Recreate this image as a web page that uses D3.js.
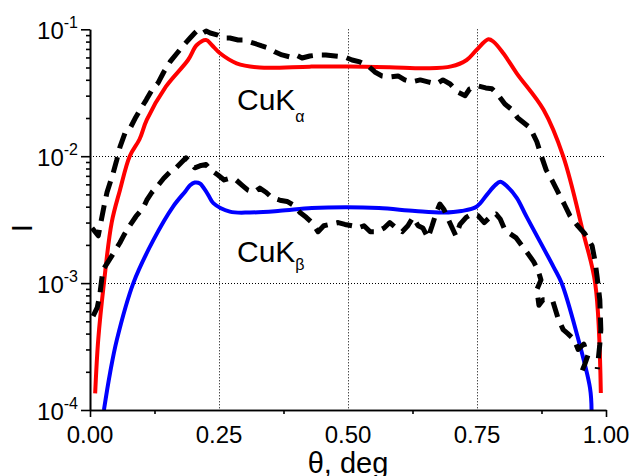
<!DOCTYPE html>
<html><head><meta charset="utf-8">
<script src="https://cdn.jsdelivr.net/npm/d3@7"></script>
<style>
body{margin:0;background:#fff}
text{font-family:Arial,"Liberation Sans",sans-serif;fill:#000}
</style>
</head><body>
<svg id="c" width="633" height="476"></svg>
<script>
// ---- data ----
const xMajorTicks = [0, 0.25, 0.5, 0.75, 1.0];
const xTickLabels = ["0.00", "0.25", "0.50", "0.75", "1.00"];
const xMinorTicks = [0.125, 0.375, 0.625, 0.875];
const xGrid = [0.25, 0.5, 0.75];
const yExponents = [-4, -3, -2, -1];
const yGrid = [1e-3, 1e-2];

// calculated CuK-alpha (red)
const thetaRed = [0.010,0.016,0.027,0.042,0.058,0.077,0.096,0.110,0.147,0.190,0.207,0.225,0.236,0.252,0.284,0.329,0.426,0.500,0.580,0.652,0.700,0.730,0.749,0.772,0.782,0.801,0.827,0.879,0.917,0.956,0.979,0.990];
const intRed = [1.35e-4,3.6e-4,1.0e-3,3.0e-3,5.4e-3,0.0100,0.0136,0.0193,0.0353,0.0573,0.0752,0.0824,0.0752,0.0647,0.0540,0.0500,0.0508,0.0510,0.0503,0.0493,0.0510,0.0573,0.0687,0.0834,0.0798,0.0647,0.0450,0.0232,0.0100,0.00248,0.00100,1.36e-4];

// calculated CuK-beta (blue)
const thetaBlue = [0.027,0.039,0.052,0.084,0.123,0.161,0.185,0.194,0.203,0.213,0.229,0.239,0.271,0.310,0.368,0.430,0.497,0.560,0.630,0.685,0.720,0.749,0.769,0.785,0.795,0.808,0.827,0.846,0.898,0.914,0.943,0.969,0.972];
const intBlue = [1.0e-4,1.97e-4,3.57e-4,1.0e-3,2.19e-3,4.01e-3,5.3e-3,5.9e-3,6.2e-3,6.1e-3,4.96e-3,4.27e-3,3.66e-3,3.60e-3,3.71e-3,3.90e-3,3.96e-3,3.90e-3,3.70e-3,3.60e-3,3.70e-3,4.0e-3,4.96e-3,5.9e-3,6.3e-3,5.8e-3,4.7e-3,3.34e-3,1.35e-3,1.0e-3,4.04e-4,1.49e-4,1.0e-4];

// measured, upper (black dashed)
const thetaUp = [0.004,0.016,0.021,0.027,0.033,0.045,0.052,0.058,0.068,0.078,0.089,0.097,0.109,0.120,0.132,0.143,0.155,0.169,0.180,0.194,0.203,0.209,0.219,0.225,0.233,0.248,0.260,0.271,0.287,0.300,0.310,0.322,0.333,0.345,0.359,0.372,0.388,0.399,0.411,0.426,0.442,0.457,0.475,0.494,0.508,0.523,0.539,0.552,0.566,0.581,0.597,0.610,0.624,0.640,0.655,0.671,0.684,0.698,0.713,0.727,0.736,0.752,0.767,0.779,0.791,0.804,0.818,0.829,0.843,0.853,0.866,0.876,0.884,0.895,0.907,0.919,0.930,0.946,0.959,0.973,0.979,0.983,0.988,0.990,0.988,0.985,0.983];
const intUp = [0.00272,0.00236,0.0030,0.0040,0.0052,0.0074,0.0094,0.0118,0.0153,0.0167,0.0204,0.0232,0.0278,0.0333,0.0378,0.0461,0.0553,0.0650,0.0739,0.0854,0.0935,0.0987,0.0935,0.0970,0.0935,0.0901,0.0854,0.0854,0.0824,0.0824,0.0794,0.0766,0.0739,0.0713,0.0662,0.0628,0.0605,0.0628,0.0594,0.0616,0.0628,0.0628,0.0616,0.0605,0.0573,0.0553,0.0514,0.0461,0.0429,0.0421,0.0429,0.0399,0.0385,0.0399,0.0385,0.0371,0.0399,0.0371,0.0320,0.0300,0.0340,0.0358,0.0345,0.0340,0.0304,0.0258,0.0232,0.0200,0.0180,0.0167,0.0130,0.0097,0.0078,0.0065,0.0052,0.0042,0.0034,0.0028,0.00245,0.00197,0.00147,0.00110,0.00074,0.00043,0.00033,0.00025,0.00021];

// measured, lower (black dashed)
const thetaLow = [0.006,0.014,0.019,0.025,0.035,0.047,0.058,0.066,0.078,0.089,0.103,0.110,0.120,0.132,0.143,0.155,0.167,0.178,0.186,0.194,0.203,0.213,0.225,0.234,0.248,0.260,0.271,0.283,0.295,0.306,0.318,0.329,0.341,0.353,0.368,0.382,0.395,0.407,0.419,0.430,0.442,0.453,0.465,0.481,0.494,0.508,0.519,0.531,0.543,0.556,0.570,0.581,0.593,0.605,0.616,0.626,0.636,0.645,0.655,0.663,0.671,0.678,0.686,0.694,0.702,0.709,0.717,0.729,0.740,0.752,0.764,0.775,0.787,0.795,0.804,0.814,0.826,0.837,0.849,0.860,0.868,0.874,0.866,0.870,0.878,0.888,0.897,0.907,0.917,0.926,0.938,0.946,0.957,0.965,0.959,0.953];
const intLow = [0.00055,0.00064,0.00081,0.00127,0.00147,0.00176,0.00208,0.00240,0.00288,0.00335,0.0039,0.0045,0.0052,0.0059,0.0067,0.0075,0.0081,0.0090,0.0097,0.0090,0.0081,0.0084,0.0086,0.0078,0.0071,0.0065,0.0067,0.0065,0.0059,0.0054,0.0052,0.0056,0.0052,0.0047,0.0045,0.0044,0.0041,0.0036,0.0033,0.0030,0.00254,0.00283,0.0029,0.0030,0.0029,0.00283,0.00272,0.00283,0.00254,0.00254,0.00272,0.0030,0.00272,0.00254,0.00283,0.0033,0.00283,0.00272,0.00227,0.00283,0.0036,0.0042,0.0038,0.0032,0.00272,0.00236,0.0029,0.0033,0.0035,0.0034,0.0030,0.0033,0.0035,0.0032,0.00263,0.00245,0.00227,0.00197,0.00170,0.00147,0.00127,0.00106,0.00089,0.00067,0.00074,0.00074,0.00072,0.00053,0.00043,0.00040,0.00036,0.00030,0.00033,0.00027,0.00023,0.00020];

// ---- chart ----
const svg = d3.select("#c");
const x = d3.scaleLinear().domain([0, 1]).range([90, 606]);
const y = d3.scaleLog().domain([1e-4, 1e-1]).range([410, 29.3]);

// grid
const grid = svg.append("g").attr("stroke", "#000").attr("stroke-width", 1).attr("stroke-dasharray", "1,2");
grid.selectAll("line.gx").data(xGrid).join("line")
  .attr("x1", d => x(d) + 0.5).attr("x2", d => x(d) + 0.5)
  .attr("y1", y(1e-1)).attr("y2", y(1e-4));
grid.selectAll("line.gy").data(yGrid).join("line")
  .attr("x1", x(0)).attr("x2", x(1))
  .attr("y1", d => Math.round(y(d)) + 0.5).attr("y2", d => Math.round(y(d)) + 0.5);

// curves
const zip = (a, b) => a.map((t, i) => [t, b[i]]);
const line = d3.line().x(d => x(d[0])).y(d => y(d[1])).curve(d3.curveCatmullRom.alpha(0.5));
const lineLin = d3.line().x(d => x(d[0])).y(d => y(d[1]));

svg.append("path").datum(zip(thetaRed, intRed)).attr("d", line)
  .attr("fill", "none").attr("stroke", "#ff0000").attr("stroke-width", 4);
svg.append("path").datum(zip(thetaBlue, intBlue)).attr("d", line)
  .attr("fill", "none").attr("stroke", "#0000ff").attr("stroke-width", 4);
[zip(thetaUp, intUp), zip(thetaLow, intLow)].forEach(dd => {
  svg.append("path").datum(dd).attr("d", lineLin)
    .attr("fill", "none").attr("stroke", "#000").attr("stroke-width", 5)
    .attr("stroke-dasharray", "16,9").attr("stroke-linejoin", "round");
});

// axes
const yMajorVals = yExponents.map(e => Math.pow(10, e));
const yMinorVals = [];
yExponents.slice(0, -1).forEach(e => { for (let k = 2; k <= 9; k++) yMinorVals.push(k * Math.pow(10, e)); });

const ax = svg.append("g");
ax.append("g").attr("transform", `translate(${x(0)},0)`)
  .call(d3.axisLeft(y).tickValues(yMinorVals).tickSize(4).tickSizeOuter(0).tickFormat(""));
ax.append("g").attr("transform", `translate(${x(0)},0)`)
  .call(d3.axisLeft(y).tickValues(yMajorVals).tickSize(9).tickSizeOuter(0).tickFormat(""));
ax.append("g").attr("transform", `translate(0,${y(1e-4)})`)
  .call(d3.axisBottom(x).tickValues(xMinorTicks).tickSize(4).tickSizeOuter(0).tickFormat(""));
ax.append("g").attr("transform", `translate(0,${y(1e-4)})`)
  .call(d3.axisBottom(x).tickValues([xMajorTicks[0], xMajorTicks[4]]).tickSize(7).tickSizeOuter(0).tickFormat(""));
ax.selectAll("path.domain").attr("stroke", "#000").attr("stroke-width", 1.6);
ax.selectAll(".tick line").attr("stroke", "#000").attr("stroke-width", 1.6);

// y tick labels
yExponents.forEach(e => {
  const t = svg.append("text").attr("x", 78).attr("y", y(Math.pow(10, e)) + 10).attr("text-anchor", "end");
  t.append("tspan").attr("font-size", 24).text("10");
  t.append("tspan").attr("font-size", 16).attr("dy", -11).text(String(e));
});

// x tick labels
svg.selectAll("text.xl").data(xMajorTicks).join("text")
  .attr("x", d => x(d)).attr("y", 443).attr("text-anchor", "middle")
  .attr("font-size", 24).text((d, i) => xTickLabels[i]);

// axis titles
svg.append("text").attr("x", x(0.5)).attr("y", 473).attr("text-anchor", "middle")
  .attr("font-size", 29).text("θ, deg");
svg.append("text").attr("transform", "translate(32,228) rotate(-90)").attr("text-anchor", "middle")
  .attr("font-size", 30).text("I");

// annotations
const a1 = svg.append("text").attr("x", 237).attr("y", 110).attr("font-size", 30);
a1.append("tspan").text("CuK");
a1.append("tspan").attr("font-size", 16).attr("dy", 12).text("α");
const a2 = svg.append("text").attr("x", 237).attr("y", 262).attr("font-size", 30);
a2.append("tspan").text("CuK");
a2.append("tspan").attr("font-size", 16).attr("dy", 8).text("β");
</script>
</body></html>
